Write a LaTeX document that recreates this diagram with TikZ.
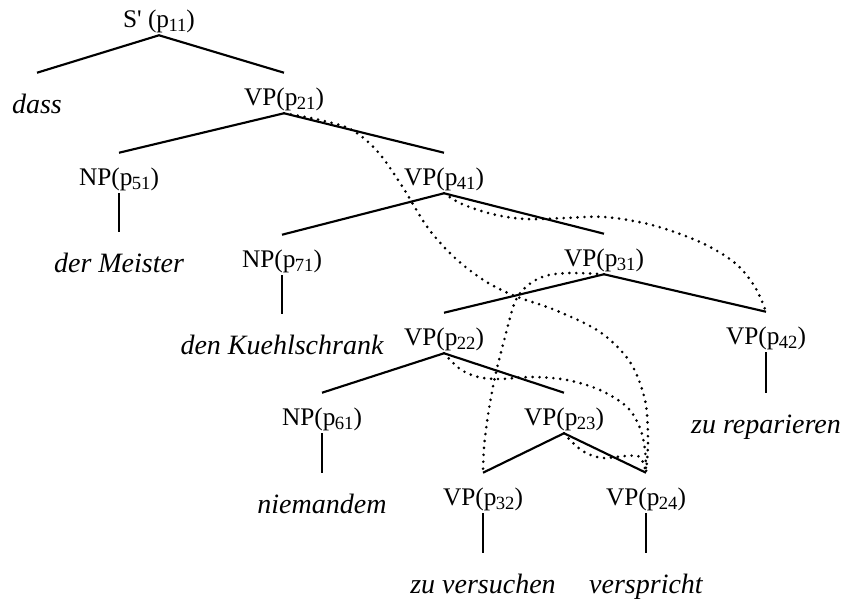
\documentclass[tikz,border=0pt]{standalone}
\usepackage{fontspec}
\setmainfont{Liberation Serif}
\usepackage{tikz}

\tikzset{
  cat/.style={anchor=base, inner sep=0pt, text height=24pt, text depth=6pt, font=\fontsize{19}{22}\selectfont},
  word/.style={anchor=base, inner sep=0pt, text height=30pt, text depth=0pt, font=\fontsize{21}{24}\selectfont\itshape},
  branch/.style={line width=1.6pt},
  link/.style={line width=2.2pt, dash pattern=on 0pt off 5.2pt, line cap=round}
}
\newcommand{\idx}[1]{\raisebox{-3.6pt}{\fontsize{14}{14}\selectfont #1}}
\newcommand{\catVP}[1]{VP(p\kern-0.5pt\idx{#1})}
\newcommand{\catNP}[1]{NP(p\kern-0.5pt\idx{#1})}

\begin{document}
\begin{tikzpicture}[x=0.75pt,y=-0.75pt]
  \useasboundingbox (0,0) rectangle (844,600);
  % categories
  \node[cat] (p11) at (159,27) {S\textquotesingle\ (p\kern-0.5pt\idx{11})};
  \node[cat] (p21) at (284,105) {\catVP{21}}; \node[cat] (p51) at (119,185) {\catNP{51}};
  \node[cat] (p41) at (444,185) {\catVP{41}}; \node[cat] (p71) at (282,267) {\catNP{71}};
  \node[cat] (p31) at (604,266) {\catVP{31}}; \node[cat] (p22) at (444,345) {\catVP{22}};
  \node[cat] (p42) at (766,344) {\catVP{42}}; \node[cat] (p61) at (322,425) {\catNP{61}};
  \node[cat] (p23) at (564,425) {\catVP{23}}; \node[cat] (p32) at (483,505) {\catVP{32}};
  \node[cat] (p24) at (646,505) {\catVP{24}};
  % words
  \node[word] (dass) at (37,113) {dass}; \node[word] (meister) at (119,272) {der Meister};
  \node[word] (kuehl) at (282,354) {den Kuehlschrank}; \node[word] (rep) at (766,433) {zu reparieren};
  \node[word] (niem) at (322,513) {niemandem}; \node[word] (vers) at (483,593) {zu versuchen};
  \node[word] (verspr) at (646,593) {verspricht};
  % tree
  \draw[branch] (dass.north) -- (p11.south) -- (p21.north);
  \draw[branch] (p51.north) -- (p21.south) -- (p41.north);
  \draw[branch] (p71.north) -- (p41.south) -- (p31.north);
  \draw[branch] (p22.north) -- (p31.south) -- (p42.north);
  \draw[branch] (p61.north) -- (p22.south) -- (p23.north);
  \draw[branch] (p32.north) -- (p23.south) -- (p24.north);
  \draw[branch] (p51.south) -- (meister.north); \draw[branch] (p71.south) -- (kuehl.north);
  \draw[branch] (p42.south) -- (rep.north); \draw[branch] (p61.south) -- (niem.north);
  \draw[branch] (p32.south) -- (vers.north); \draw[branch] (p24.south) -- (verspr.north);
  % dotted links
  \draw[link] plot[smooth, tension=0.55] coordinates {(p21.south) (320,120) (352,130) (378,152) (402,186) (428,228) (455,258) (485,281) (515,296) (555,310) (600,332) (630,362) (645,400) (648,440) (p24.north)};
  \draw[link] plot[smooth, tension=0.55] coordinates {(p41.south) (462,204) (492,214) (525,219) (565,218) (605,217) (652,225) (700,242) (735,263) (755,287) (p42.north)};
  \draw[link] plot[smooth, tension=0.55] coordinates {(p31.south) (570,273) (545,276) (527,286) (515,302) (505,337) (495,377) (488,415) (484,448) (p32.north)};
  \draw[link] plot[smooth, tension=0.55] coordinates {(p22.south) (460,369) (478,377) (500,379) (533,377) (567,380) (600,390) (627,407) (640,428) (645,450) (p24.north)};
  \draw[link] plot[smooth, tension=0.55] coordinates {(p23.south) (573,443) (586,453) (603,458) (625,456) (640,457) (p24.north)};
\end{tikzpicture}
\end{document}
